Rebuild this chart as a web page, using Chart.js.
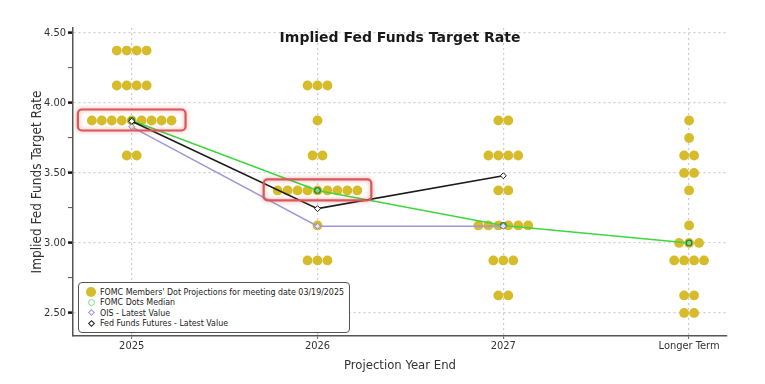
<!DOCTYPE html>
<html><head><meta charset="utf-8">
<script src="https://cdn.jsdelivr.net/npm/chart.js@4"></script>
<style>
html,body{margin:0;padding:0;background:#fff;}
#wrap{position:relative;width:765px;height:384px;overflow:hidden;}
#legend{position:absolute;left:78px;top:282px;width:272px;height:51px;border:1.5px solid #555;border-radius:4px;background:#fff;box-sizing:border-box;font:8.8px 'DejaVu Sans Condensed','DejaVu Sans',sans-serif;color:#222;padding:4px 0 0 6px;}
.item{height:10.4px;line-height:10.4px;display:flex;align-items:center;white-space:nowrap;}
.mk{width:12px;height:10px;display:inline-flex;align-items:center;justify-content:center;margin-right:3px;}
.mk span{display:block;box-sizing:border-box;}
</style></head>
<body><div id="wrap"><canvas id="c" width="765" height="384"></canvas><div id="legend"></div></div>
<script>
const TITLE = 'Implied Fed Funds Target Rate';
const X_TITLE = 'Projection Year End';
const Y_TITLE = 'Implied Fed Funds Target Rate';
const CATEGORIES = ['2025', '2026', '2027', 'Longer Term'];
const Y_TICKS = [2.50, 3.00, 3.50, 4.00, 4.50];
// FOMC dot plot: rate levels and number of participants at each level
const DOT_RATES_2025 = [4.375, 4.125, 3.875, 3.625];
const DOT_COUNTS_2025 = [4, 4, 9, 2];
const DOT_RATES_2026 = [4.125, 3.875, 3.625, 3.375, 3.125, 2.875];
const DOT_COUNTS_2026 = [3, 1, 2, 9, 1, 3];
const DOT_RATES_2027 = [3.875, 3.625, 3.375, 3.125, 2.875, 2.625];
const DOT_COUNTS_2027 = [2, 4, 2, 6, 3, 2];
const DOT_RATES_LT = [3.875, 3.75, 3.625, 3.5, 3.375, 3.125, 3.0, 2.875, 2.625, 2.5];
const DOT_COUNTS_LT = [1, 1, 2, 2, 1, 1, 3, 4, 2, 2];
const MEDIAN = [3.875, 3.375, 3.125, 3.0];
const OIS = [3.83, 3.12, 3.12, null];
const FUTURES = [3.87, 3.245, 3.48, null];
const HIGHLIGHT_CATS = [0, 1];
const HIGHLIGHT_RATES = [3.875, 3.375];
const SERIES_NAMES = ["FOMC Members' Dot Projections for meeting date 03/19/2025", 'FOMC Dots Median', 'OIS - Latest Value', 'Fed Funds Futures - Latest Value'];

const DOT_RATES = [DOT_RATES_2025, DOT_RATES_2026, DOT_RATES_2027, DOT_RATES_LT];
const DOT_COUNTS = [DOT_COUNTS_2025, DOT_COUNTS_2026, DOT_COUNTS_2027, DOT_COUNTS_LT];
const DOT_STEP = 0.0536; // horizontal spacing of side-by-side dots (x units)

const dotPoints = [];
DOT_RATES.forEach((rates, c) => {
  rates.forEach((r, i) => {
    const n = DOT_COUNTS[c][i];
    for (let j = 0; j < n; j++) dotPoints.push({x: c + (j - (n - 1) / 2) * DOT_STEP, y: r});
  });
});
const toXY = arr => arr.map((v, i) => v == null ? null : {x: i, y: v}).filter(p => p);

const GOLD = '#d6bb2a', GREEN = '#3fd63f', PURPLE = '#a097d8', BLACK = '#1b1b1b';
const FONT = "'DejaVu Sans Condensed','DejaVu Sans',sans-serif";

const titlePlugin = {
  id: 'titleInside',
  afterDraw(chart) {
    const {ctx, chartArea} = chart;
    ctx.save();
    ctx.font = "bold 14px 'DejaVu Sans',sans-serif";
    ctx.fillStyle = '#1a1a1a';
    ctx.textAlign = 'center'; ctx.textBaseline = 'middle';
    ctx.fillText(TITLE, (chartArea.left + chartArea.right) / 2, chartArea.top + 10);
    ctx.restore();
  }
};
const highlightPlugin = {
  id: 'highlight',
  afterDatasetsDraw(chart) {
    const {ctx} = chart; const xs = chart.scales.x, ys = chart.scales.y;
    ctx.save();
    HIGHLIGHT_CATS.forEach((c, k) => {
      const r = HIGHLIGHT_RATES[k];
      const n = DOT_COUNTS[c][DOT_RATES[c].indexOf(r)];
      const half = (n - 1) / 2 * DOT_STEP;
      const x1 = xs.getPixelForValue(c - half) - 14, x2 = xs.getPixelForValue(c + half) + 14;
      const yc = ys.getPixelForValue(r);
      const y1 = yc - 11, y2 = yc + 10;
      ctx.shadowColor = 'rgba(210,60,60,0.55)'; ctx.shadowBlur = 4;
      ctx.strokeStyle = '#d9585a'; ctx.lineWidth = 2.2;
      ctx.beginPath(); ctx.roundRect(x1, y1, x2 - x1, y2 - y1, 4); ctx.stroke();
    });
    ctx.restore();
  }
};

new Chart(document.getElementById('c'), {
  type: 'scatter',
  data: {
    datasets: [
      {label: SERIES_NAMES[0], data: dotPoints, backgroundColor: GOLD, borderWidth: 0, pointRadius: 4.9, pointHoverRadius: 4.9, order: 10},
      {label: SERIES_NAMES[1], data: toXY(MEDIAN), showLine: true, borderColor: GREEN, borderWidth: 1.6, pointRadius: 2.8, pointBorderColor: '#2f7d2f', pointBackgroundColor: '#7fd87f', pointBorderWidth: 1.2, order: 3},
      {label: SERIES_NAMES[2], data: toXY(OIS), showLine: true, borderColor: PURPLE, borderWidth: 1.5, pointStyle: 'rectRot', pointRadius: 3, pointBorderColor: '#8f86c8', pointBackgroundColor: '#e8e4f8', pointBorderWidth: 1, order: 2},
      {label: SERIES_NAMES[3], data: toXY(FUTURES), showLine: true, borderColor: BLACK, borderWidth: 1.6, pointStyle: 'rectRot', pointRadius: 3, pointBorderColor: BLACK, pointBackgroundColor: '#fff', pointBorderWidth: 1, order: 1}
    ]
  },
  options: {
    responsive: false, animation: false,
    layout: {padding: {top: 28, right: 38, bottom: 0, left: 0}},
    plugins: {legend: {display: false}, tooltip: {enabled: false}},
    scales: {
      x: {
        type: 'linear', min: -0.316, max: 3.204,
        afterBuildTicks: s => { s.ticks = CATEGORIES.map((_, i) => ({value: i})); },
        afterFit: s => { s.height = 48; },
        ticks: {autoSkip: false, maxRotation: 0, padding: 1, color: '#333', font: {family: FONT, size: 11}, callback: v => CATEGORIES[v]},
        grid: {color: '#cdcdcd', lineWidth: 1.2, tickColor: '#666', tickLength: 3, tickWidth: 1},
        border: {color: '#555', width: 1.5, dash: [2, 3]},
        title: {display: true, text: X_TITLE, color: '#333', font: {family: FONT, size: 13}, padding: {top: 0, bottom: 11}}
      },
      y: {
        min: 2.335, max: 4.536,
        afterBuildTicks: s => {
          const t = [];
          for (let v = 2.5; v <= 4.5001; v += 0.25) t.push({value: Math.round(v * 100) / 100});
          s.ticks = t;
        },
        afterFit: s => { s.width = 73; },
        ticks: {autoSkip: false, padding: 2, color: '#333', font: {family: FONT, size: 11},
          callback: v => Y_TICKS.includes(v) ? v.toFixed(2) : ''},
        grid: {
          color: c => (c.tick && Y_TICKS.includes(c.tick.value)) ? '#cdcdcd' : 'rgba(0,0,0,0)',
          lineWidth: 1.2,
          tickColor: c => (c.tick && Y_TICKS.includes(c.tick.value)) ? '#111' : '#555',
          tickWidth: c => (c.tick && Y_TICKS.includes(c.tick.value)) ? 2.5 : 1,
          tickLength: 5
        },
        border: {color: '#555', width: 1.5, dash: [2, 3]},
        title: {display: true, text: Y_TITLE, color: '#333', font: {family: FONT, size: 13.5}, padding: {top: 29, bottom: 0}}
      }
    }
  },
  plugins: [highlightPlugin, titlePlugin]
});

// HTML legend built from the series names
const MARKERS = [
  '<span style="width:10px;height:10px;border-radius:50%;background:' + GOLD + '"></span>',
  '<span style="width:7px;height:7px;border-radius:50%;border:1.5px solid #7fd87f"></span>',
  '<span style="width:5px;height:5px;transform:rotate(45deg);border:1px solid #a097d8"></span>',
  '<span style="width:5px;height:5px;transform:rotate(45deg);border:1.5px solid #222"></span>'
];
document.getElementById('legend').innerHTML = SERIES_NAMES.map((n, i) =>
  '<div class="item"><span class="mk">' + MARKERS[i] + '</span><span>' + n.replace(/&/g, '&amp;') + '</span></div>').join('');
</script>
</body></html>
